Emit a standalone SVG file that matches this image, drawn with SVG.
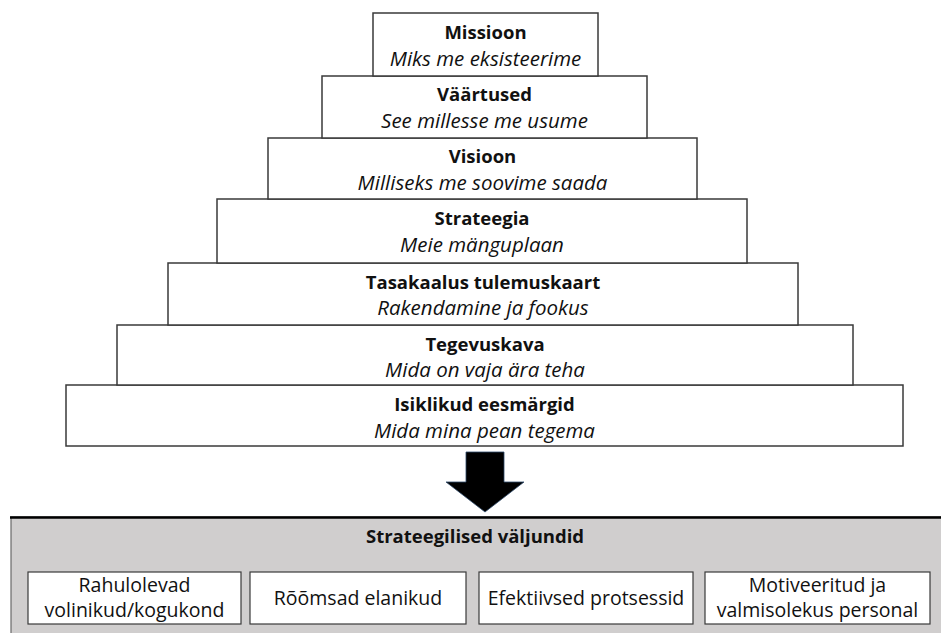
<svg xmlns="http://www.w3.org/2000/svg" width="941" height="633" viewBox="0 0 941 633">
<style>
.box{fill:#fff;stroke:#3a3a3a;stroke-width:1.5}
.t{font-family:"Open Sans","Noto Sans","Liberation Sans",sans-serif;font-size:19.5px;fill:#111;text-anchor:middle}
.b{font-weight:bold;font-size:18.5px}
.i{font-style:italic;font-size:20.5px}
.ibox{fill:#fff;stroke:#3a3a3a;stroke-width:1.2}
</style>
<rect width="941" height="633" fill="#fff"/>
<g id="outcomes">
<rect x="11" y="517" width="940" height="130" fill="#d0cece" stroke="#6a6a6a" stroke-width="1.2"/>
<line x1="10" y1="517.5" x2="941" y2="517.5" stroke="#000" stroke-width="2.5"/>
<text class="t b" x="475" y="543">Strateegilised väljundid</text>
</g>
<g id="out1"><rect class="ibox" x="28" y="572" width="213" height="52"/>
<text class="t" x="134.5" y="592">Rahulolevad</text><text class="t" x="134.5" y="617">volinikud/kogukond</text></g>
<g id="out2"><rect class="ibox" x="250" y="572" width="216" height="52"/>
<text class="t" x="358" y="605">Rõõmsad elanikud</text></g>
<g id="out3"><rect class="ibox" x="479" y="572" width="214" height="52"/>
<text class="t" x="586" y="605">Efektiivsed protsessid</text></g>
<g id="out4"><rect class="ibox" x="705" y="572" width="225" height="52"/>
<text class="t" x="817.5" y="592">Motiveeritud ja</text><text class="t" x="817.5" y="617">valmisolekus personal</text></g>
<g id="connectors">
<polygon points="466,452 504,452 504,482 524,482 485,512 446,482 466,482" fill="#000" stroke="#2e4a6b" stroke-width="0.8"/>
</g>
<g id="l7"><rect class="box" x="66" y="385" width="837" height="61"/>
<text class="t b" x="484.5" y="411">Isiklikud eesmärgid</text><text class="t i" x="484.5" y="438">Mida mina pean tegema</text></g>
<g id="l6"><rect class="box" x="117" y="325" width="736" height="60"/>
<text class="t b" x="485" y="351">Tegevuskava</text><text class="t i" x="485" y="377">Mida on vaja ära teha</text></g>
<g id="l5"><rect class="box" x="168" y="263" width="630" height="62"/>
<text class="t b" x="483" y="289">Tasakaalus tulemuskaart</text><text class="t i" x="483" y="315">Rakendamine ja fookus</text></g>
<g id="l4"><rect class="box" x="217" y="199" width="530" height="64"/>
<text class="t b" x="482" y="225">Strateegia</text><text class="t i" x="482" y="252">Meie mänguplaan</text></g>
<g id="l3"><rect class="box" x="268" y="138" width="429" height="61"/>
<text class="t b" x="482.5" y="163">Visioon</text><text class="t i" x="482.5" y="190">Milliseks me soovime saada</text></g>
<g id="l2"><rect class="box" x="322" y="76" width="325" height="62"/>
<text class="t b" x="484.5" y="101">Väärtused</text><text class="t i" x="484.5" y="128">See millesse me usume</text></g>
<g id="l1"><rect class="box" x="373" y="13" width="225" height="63"/>
<text class="t b" x="485.5" y="39">Missioon</text><text class="t i" x="485.5" y="66">Miks me eksisteerime</text></g>
</svg>
